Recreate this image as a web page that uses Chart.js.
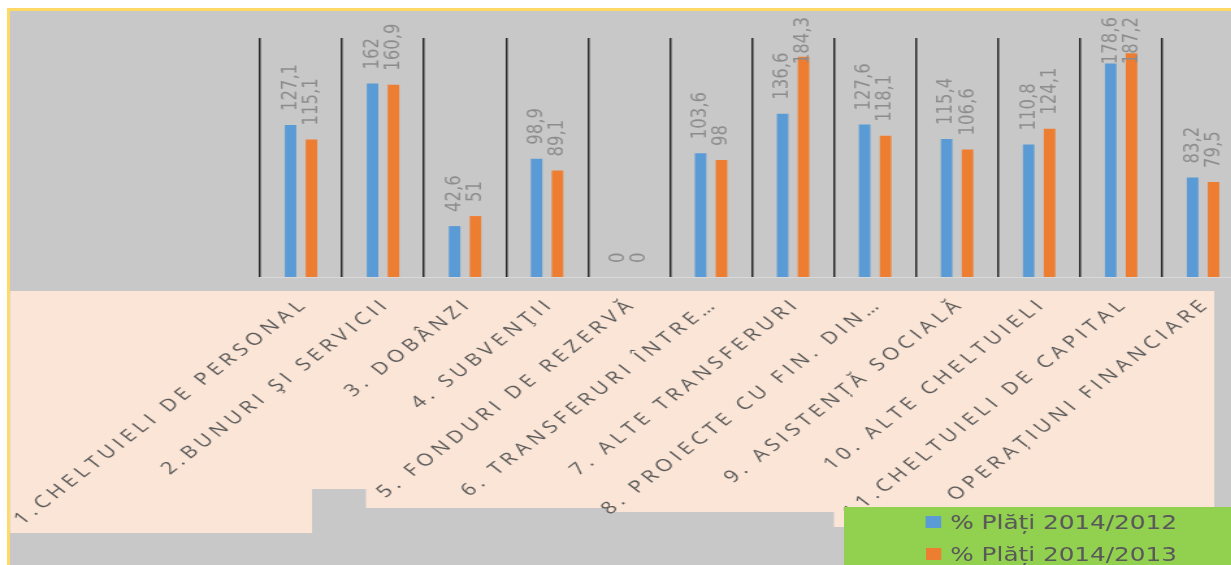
<!DOCTYPE html>
<html>
<head>
<meta charset="utf-8">
<script src="https://cdn.jsdelivr.net/npm/chart.js"></script>
<style>
  html, body { margin: 0; overflow: hidden; background: #fff; }
  body { position: relative; width: 1231px; height: 565px; }
  #marco { position: absolute; left: 7px; top: 8px; width: 1240px; height: 570px; background: #c8c8c8;
           border-top: 3px solid #ffd966; border-left: 3px solid #ffd966; }
  /* la imagen original esta estirada en horizontal */
  #lienzo { position: absolute; left: 0; top: 0; width: 980px; height: 565px; transform: scaleX(1.3); transform-origin: 0 0; }
  #leyenda { position: absolute; left: 648.5px; top: 507px; width: 330px; height: 58px; background: #92d050;
             font-family: "DejaVu Sans"; font-size: 19px; color: #595959; }
  .fila { position: absolute; left: 63px; height: 24px; line-height: 24px; white-space: nowrap; }
  .cuadro { position: absolute; left: 0; top: 6px; width: 12px; height: 12px; }
  .texto { position: absolute; left: 19.5px; top: 0; }
</style>
</head>
<body>
<div id="marco"></div>
<div id="lienzo">
  <canvas id="grafico" width="980" height="565"></canvas>
  <div id="leyenda"></div>
</div>
<script>
const categorias = [
  "1.CHELTUIELI DE PERSONAL",
  "2.BUNURI ŞI SERVICII",
  "3. DOBÂNZI",
  "4. SUBVENŢII",
  "5. FONDURI DE REZERVĂ",
  "6. TRANSFERURI ÎNTRE…",
  "7. ALTE TRANSFERURI",
  "8. PROIECTE CU FIN. DIN…",
  "9. ASISTENȚĂ SOCIALĂ",
  "10. ALTE CHELTUIELI",
  "11.CHELTUIELI DE CAPITAL",
  "12. OPERAȚIUNI FINANCIARE"
];
const plati2012 = [127.1, 162, 42.6, 98.9, 0, 103.6, 136.6, 127.6, 115.4, 110.8, 178.6, 83.2];
const plati2013 = [115.1, 160.9, 51, 89.1, 0, 98, 184.3, 118.1, 106.6, 124.1, 187.2, 79.5];
const nombres = ["% Plăți 2014/2012", "% Plăți 2014/2013"];
const colores = ["#5b9bd5", "#ed7d31"];
const ejeMin = 0;
const ejeMax = 200;

function formato(v) {
  return String(v).replace(".", ",");
}

// fondo rosado detras de las etiquetas del eje x
const fondoEtiquetas = {
  id: "fondoEtiquetas",
  beforeDraw(chart) {
    const ctx = chart.ctx;
    ctx.save();
    ctx.fillStyle = "#fbe5d6";
    ctx.beginPath();
    ctx.moveTo(7.7, 291);
    ctx.lineTo(934, 291);
    ctx.lineTo(934, 527);
    ctx.lineTo(641.5, 527);
    ctx.lineTo(641.5, 512);
    ctx.lineTo(467.7, 512);
    ctx.lineTo(467.7, 508);
    ctx.lineTo(281.5, 508);
    ctx.lineTo(281.5, 489);
    ctx.lineTo(240, 489);
    ctx.lineTo(240, 533);
    ctx.lineTo(7.7, 533);
    ctx.closePath();
    ctx.fill();
    ctx.restore();
  }
};

const etiquetasValores = {
  id: "etiquetasValores",
  afterDatasetsDraw(chart) {
    const ctx = chart.ctx;
    ctx.save();
    ctx.font = '16.5px "DejaVu Sans"';
    ctx.fillStyle = "#8c8c8c";
    ctx.textAlign = "left";
    ctx.textBaseline = "middle";
    chart.data.datasets.forEach((ds, i) => {
      chart.getDatasetMeta(i).data.forEach((barra, j) => {
        const txt = formato(ds.data[j]);
        const largo = ctx.measureText(txt).width;
        // como en excel, la etiqueta no sale por arriba del grafico
        const y = Math.max(barra.y - 14, 17 + largo);
        ctx.save();
        ctx.translate(barra.x, y);
        ctx.rotate(-Math.PI / 2);
        ctx.fillText(txt, 0, 0);
        ctx.restore();
      });
    });
    ctx.restore();
    // las etiquetas del eje x se dibujan despues (z: 1) con letras separadas
    ctx.letterSpacing = "3.8px";
  },
  afterDraw(chart) {
    chart.ctx.letterSpacing = "0px";
  }
};

const grafico = new Chart("grafico", {
  type: "bar",
  data: {
    labels: categorias,
    datasets: [
      { label: nombres[0], data: plati2012, backgroundColor: colores[0], categoryPercentage: 0.51, barPercentage: 0.55 },
      { label: nombres[1], data: plati2013, backgroundColor: colores[1], categoryPercentage: 0.51, barPercentage: 0.55 }
    ]
  },
  options: {
    responsive: false,
    animation: false,
    layout: { padding: { left: 200, right: 23, top: 38, bottom: 0 } },
    plugins: {
      legend: { display: false },
      tooltip: { enabled: false }
    },
    scales: {
      x: {
        grid: { color: "#262626", lineWidth: 1.5, drawTicks: false, offset: true },
        border: { color: "#d9d9d9", width: 1 },
        ticks: {
          autoSkip: false,
          minRotation: 45,
          maxRotation: 45,
          padding: 17,
          labelOffset: 3,
          color: "#595959",
          font: { family: "Open Sans", size: 17 },
          z: 1
        },
        afterFit(escala) {
          escala.height = 288;
        }
      },
      y: { display: false, min: ejeMin, max: ejeMax }
    }
  },
  plugins: [fondoEtiquetas, etiquetasValores]
});

// leyenda en html, a partir de los datos del grafico
const leyenda = document.getElementById("leyenda");
grafico.data.datasets.forEach((ds, i) => {
  const fila = document.createElement("div");
  fila.className = "fila";
  fila.style.top = (3 + i * 32) + "px";
  const cuadro = document.createElement("span");
  cuadro.className = "cuadro";
  cuadro.style.background = ds.backgroundColor;
  const texto = document.createElement("span");
  texto.className = "texto";
  texto.innerText = ds.label;
  fila.appendChild(cuadro);
  fila.appendChild(texto);
  leyenda.appendChild(fila);
});
</script>
</body>
</html>
